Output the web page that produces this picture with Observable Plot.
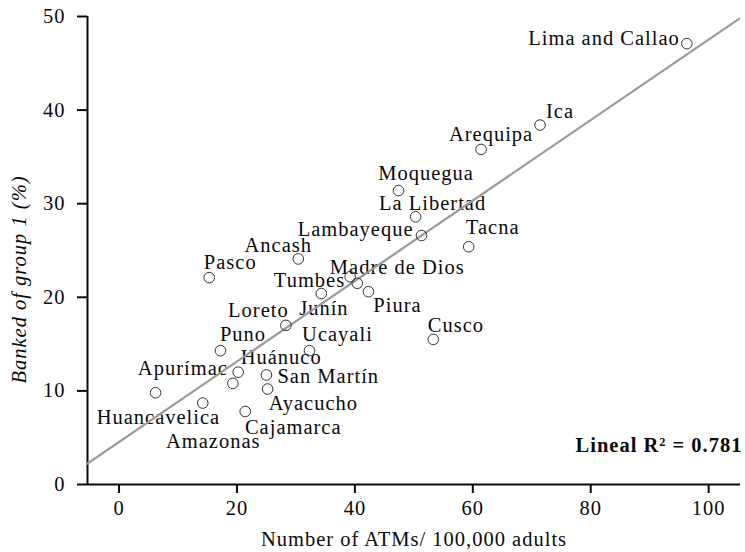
<!DOCTYPE html>
<html>
<head>
<meta charset="utf-8">
<script src="https://cdn.jsdelivr.net/npm/d3@7"></script>
<script src="https://cdn.jsdelivr.net/npm/@observablehq/plot@0.6"></script>
<style>
  html, body { margin: 0; padding: 0; background: #fff; }
  #chart svg { display: block; }
</style>
</head>
<body>
<div id="chart"></div>
<script>
// Regions of Peru: ATMs per 100,000 adults vs. share banked (group 1, %)
const regions = [
  "Lima and Callao", "Ica", "Arequipa", "Moquegua", "La Libertad", "Lambayeque",
  "Tacna", "Ancash", "Pasco", "Tumbes", "Madre de Dios", "Piura", "Junín",
  "Loreto", "Cusco", "Puno", "Ucayali", "Huánuco", "San Martín", "Apurímac",
  "Ayacucho", "Huancavelica", "Amazonas", "Cajamarca"
];
const atmsPer100k = [
  96.3, 71.4, 61.4, 47.4, 50.3, 51.3,
  59.3, 30.4, 15.3, 39.2, 40.4, 42.3, 34.3,
  28.3, 53.3, 17.2, 32.3, 20.2, 25.0, 19.3,
  25.2, 6.2, 14.2, 21.4
];
const bankedPct = [
  47.1, 38.4, 35.8, 31.4, 28.6, 26.6,
  25.4, 24.1, 22.1, 22.2, 21.5, 20.6, 20.4,
  17.0, 15.5, 14.3, 14.3, 12.0, 11.7, 10.8,
  10.2, 9.8, 8.7, 7.8
];

// Linear fit shown on the chart
const fitIntercept = 4.54;
const fitSlope = 0.43;
const rSquared = 0.781;

const xTicks = [0, 20, 40, 60, 80, 100];
const yTicks = [0, 10, 20, 30, 40, 50];
const xDomain = [-5.35, 105.4];
const yDomain = [0, 50];

const xTitle = "Number of ATMs/ 100,000 adults";
const yTitle = "Banked of group 1 (%)";

// Where each region's name sits next to its marker: [text-anchor, dx, dy] in pixels
const labelPlacement = {
  "Lima and Callao": ["end", -7, -5],
  "Ica": ["start", 6, -13.5],
  "Arequipa": ["middle", 10, -15],
  "Moquegua": ["middle", 27.6, -16.7],
  "La Libertad": ["middle", 17, -13.4],
  "Lambayeque": ["end", -8, -6],
  "Tacna": ["middle", 24, -19.3],
  "Ancash": ["middle", -20, -13.7],
  "Pasco": ["middle", 21, -15.6],
  "Tumbes": ["end", -5, 4],
  "Madre de Dios": ["middle", 40, -15.5],
  "Piura": ["middle", 29, 14.2],
  "Junín": ["middle", 2.6, 15],
  "Loreto": ["middle", -27.5, -15],
  "Cusco": ["middle", 22.6, -14],
  "Puno": ["middle", 22.5, -16],
  "Ucayali": ["middle", 28, -16.3],
  "Huánuco": ["middle", 43, -15],
  "San Martín": ["start", 11, 1],
  "Apurímac": ["end", -5, -15],
  "Ayacucho": ["middle", 45.8, 14.2],
  "Huancavelica": ["middle", 2.8, 25],
  "Amazonas": ["middle", 10.5, 38],
  "Cajamarca": ["middle", 48, 15.7]
};

const data = regions.map((name, i) => ({name, x: atmsPer100k[i], y: bankedPct[i]}));

const ink = "#0a0a0a";

const labelMarks = data.map(d => {
  const [anchor, dx, dy] = labelPlacement[d.name];
  return Plot.text([d], {
    x: "x", y: "y", text: "name",
    textAnchor: anchor, lineAnchor: "middle",
    dx, dy, fill: ink
  });
});

const chart = Plot.plot({
  width: 745,
  height: 552,
  marginLeft: 87,
  marginRight: 5,
  marginTop: 16,
  marginBottom: 68,
  style: {
    fontFamily: "'Liberation Serif', 'Times New Roman', serif",
    fontSize: "20.5px",
    letterSpacing: "1px",
    color: ink,
    background: "#fff"
  },
  x: {domain: xDomain},
  y: {domain: yDomain},
  marks: [
    Plot.axisX({ticks: xTicks, tickSize: 9, tickPadding: 7, strokeWidth: 2, label: null}),
    Plot.axisY({ticks: yTicks, tickSize: 10, tickPadding: 12, strokeWidth: 2, label: null}),
    Plot.ruleY([yDomain[0]], {stroke: ink, strokeWidth: 2}),
    Plot.ruleX([xDomain[0]], {stroke: ink, strokeWidth: 2}),
    ...labelMarks,
    Plot.line(xDomain, {
      x: d => d,
      y: d => fitIntercept + fitSlope * d,
      stroke: "#9a9a9a",
      strokeWidth: 2.2,
      clip: true
    }),
    Plot.dot(data, {x: "x", y: "y", r: 5.3, stroke: "#333", strokeWidth: 1, fill: "none"}),
    Plot.text([`Lineal R² = ${rSquared}`], {
      frameAnchor: "bottom-right", textAnchor: "end", lineAnchor: "middle",
      dx: 2, dy: -39, fontWeight: "bold", fill: ink
    }),
    Plot.text([xTitle], {
      frameAnchor: "bottom", textAnchor: "middle", lineAnchor: "middle",
      dy: 55, fill: ink, ariaLabel: "x-title"
    }),
    Plot.text([yTitle], {
      frameAnchor: "left", rotate: -90, textAnchor: "middle", lineAnchor: "middle",
      dx: -68, dy: 29, fontStyle: "italic", fill: ink
    })
  ]
});

// Set "ATMs" in small capitals within the x-axis title
const titleNode = chart.querySelector('g[aria-label="x-title"] text');
if (titleNode) {
  const ns = "http://www.w3.org/2000/svg";
  titleNode.textContent = "";
  const parts = [["Number of ", null], ["ATM", "15px"], ["s/ 100,000 adults", null]];
  for (const [str, size] of parts) {
    const ts = document.createElementNS(ns, "tspan");
    if (size) ts.setAttribute("font-size", size);
    ts.textContent = str;
    titleNode.appendChild(ts);
  }
}

document.getElementById("chart").appendChild(chart);
</script>
</body>
</html>
